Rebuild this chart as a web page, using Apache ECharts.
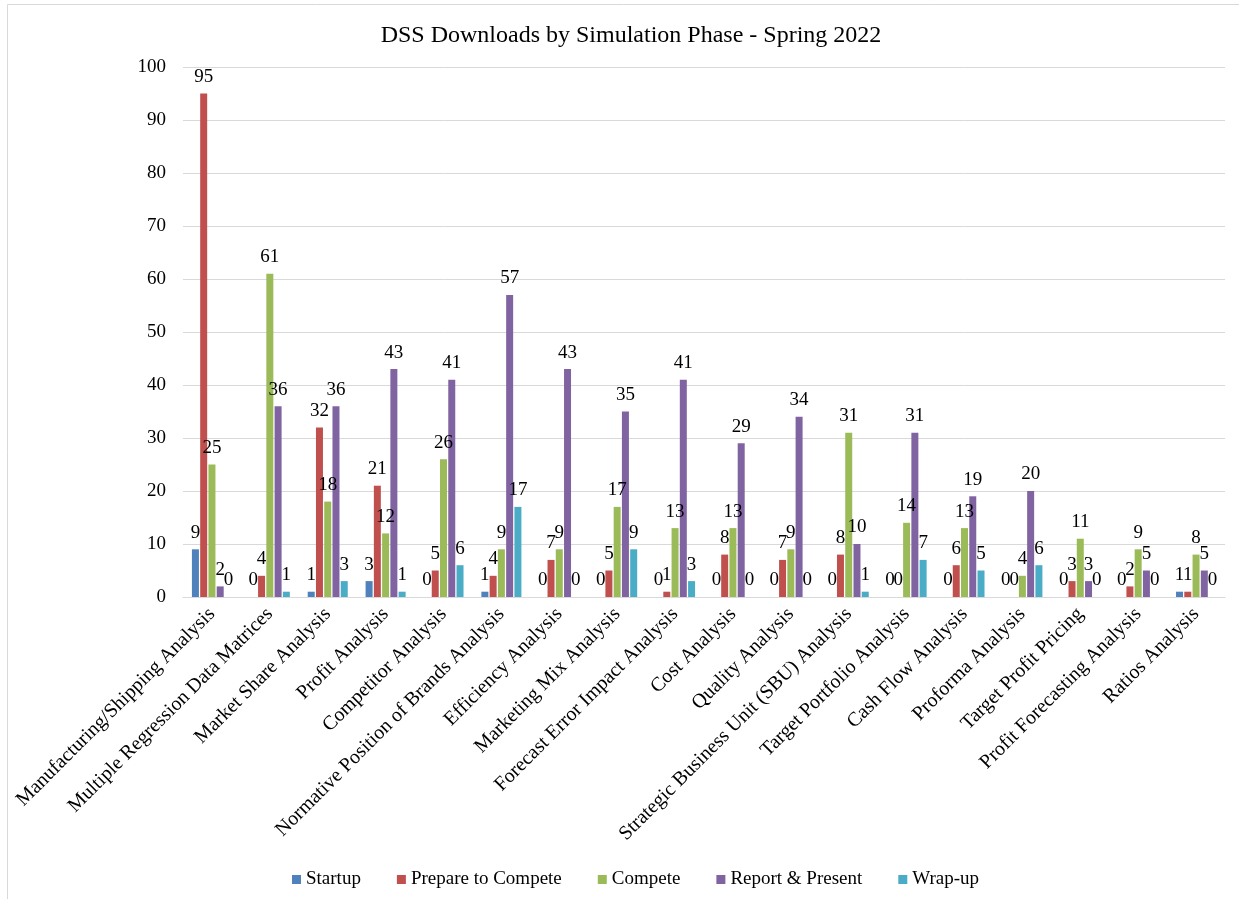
<!DOCTYPE html>
<html>
<head>
<meta charset="utf-8">
<script src="https://cdn.jsdelivr.net/npm/echarts@6/dist/echarts.min.js"></script>
<style>
  html, body { margin: 0; padding: 0; background: #fff; }
  #chart { width: 1239px; height: 899px; }
</style>
</head>
<body>
<div id="chart"></div>
<script>
// DSS downloads per analysis module, split by simulation phase
const categories = [
  'Manufacturing/Shipping Analysis',
  'Multiple Regression Data Matrices',
  'Market Share Analysis',
  'Profit Analysis',
  'Competitor Analysis',
  'Normative Position of Brands Analysis',
  'Efficiency Analysis',
  'Marketing Mix Analysis',
  'Forecast Error Impact Analysis',
  'Cost Analysis',
  'Quality Analysis',
  'Strategic Business Unit (SBU) Analysis',
  'Target Portfolio Analysis',
  'Cash Flow Analysis',
  'Proforma Analysis',
  'Target Profit Pricing',
  'Profit Forecasting Analysis',
  'Ratios Analysis'
];

const startup          = [9, 0, 1, 3, 0, 1, 0, 0, 0, 0, 0, 0, 0, 0, 0, 0, 0, 1];
const prepareToCompete = [95, 4, 32, 21, 5, 4, 7, 5, 1, 8, 7, 8, 0, 6, 0, 3, 2, 1];
const compete          = [25, 61, 18, 12, 26, 9, 9, 17, 13, 13, 9, 31, 14, 13, 4, 11, 9, 8];
const reportPresent    = [2, 36, 36, 43, 41, 57, 43, 35, 41, 29, 34, 10, 31, 19, 20, 3, 5, 5];
const wrapUp           = [0, 1, 3, 1, 6, 17, 0, 9, 3, 0, 0, 1, 7, 5, 6, 0, 0, 0];

const yTicks = { min: 0, max: 100, interval: 10 };

const seriesDefs = [
  { name: 'Startup', data: startup, color: '#4F81BD' },
  { name: 'Prepare to Compete', data: prepareToCompete, color: '#C0504D' },
  { name: 'Compete', data: compete, color: '#9BBB59' },
  { name: 'Report & Present', data: reportPresent, color: '#8064A2' },
  { name: 'Wrap-up', data: wrapUp, color: '#4BACC6' }
];

const serif = '"Liberation Serif", "Times New Roman", serif';

const chart = echarts.init(document.getElementById('chart'), null, { renderer: 'canvas' });

chart.setOption({
  backgroundColor: '#fff',
  animation: false,
  textStyle: { fontFamily: serif, color: '#000' },
  graphic: [{
    type: 'rect',
    shape: { x: 7.5, y: 4.5, width: 1240, height: 900 },
    style: { fill: 'none', stroke: '#d9d9d9', lineWidth: 1 },
    silent: true
  }],
  title: {
    text: 'DSS Downloads by Simulation Phase - Spring 2022',
    left: 626,
    top: 19,
    textAlign: 'center',
    textStyle: { fontFamily: serif, fontSize: 24, fontWeight: 'normal', color: '#000' }
  },
  legend: {
    bottom: 5,
    left: 287,
    itemWidth: 9,
    itemHeight: 9,
    itemGap: 36,
    icon: 'rect',
    textStyle: { fontFamily: serif, fontSize: 19, color: '#000' },
    data: seriesDefs.map(s => s.name)
  },
  grid: { left: 183, right: 14, top: 67, bottom: 302, containLabel: false },
  xAxis: {
    type: 'category',
    data: categories,
    axisLine: { lineStyle: { color: '#d9d9d9', width: 1 } },
    axisTick: { show: false },
    axisLabel: {
      interval: 0,
      rotate: 45,
      fontFamily: serif,
      fontSize: 20,
      color: '#000',
      margin: 14
    }
  },
  yAxis: {
    type: 'value',
    min: yTicks.min,
    max: yTicks.max,
    interval: yTicks.interval,
    axisLine: { show: false },
    axisTick: { show: false },
    splitLine: { lineStyle: { color: '#d9d9d9', width: 1 } },
    axisLabel: { fontFamily: serif, fontSize: 19, color: '#000', margin: 17 }
  },
  series: seriesDefs.map(s => ({
    name: s.name,
    type: 'bar',
    data: s.data,
    barWidth: 7,
    barGap: '18%',
    itemStyle: { color: s.color },
    label: {
      show: true,
      position: 'top',
      distance: 7,
      fontFamily: serif,
      fontSize: 19,
      color: '#000'
    }
  }))
});
</script>
</body>
</html>
